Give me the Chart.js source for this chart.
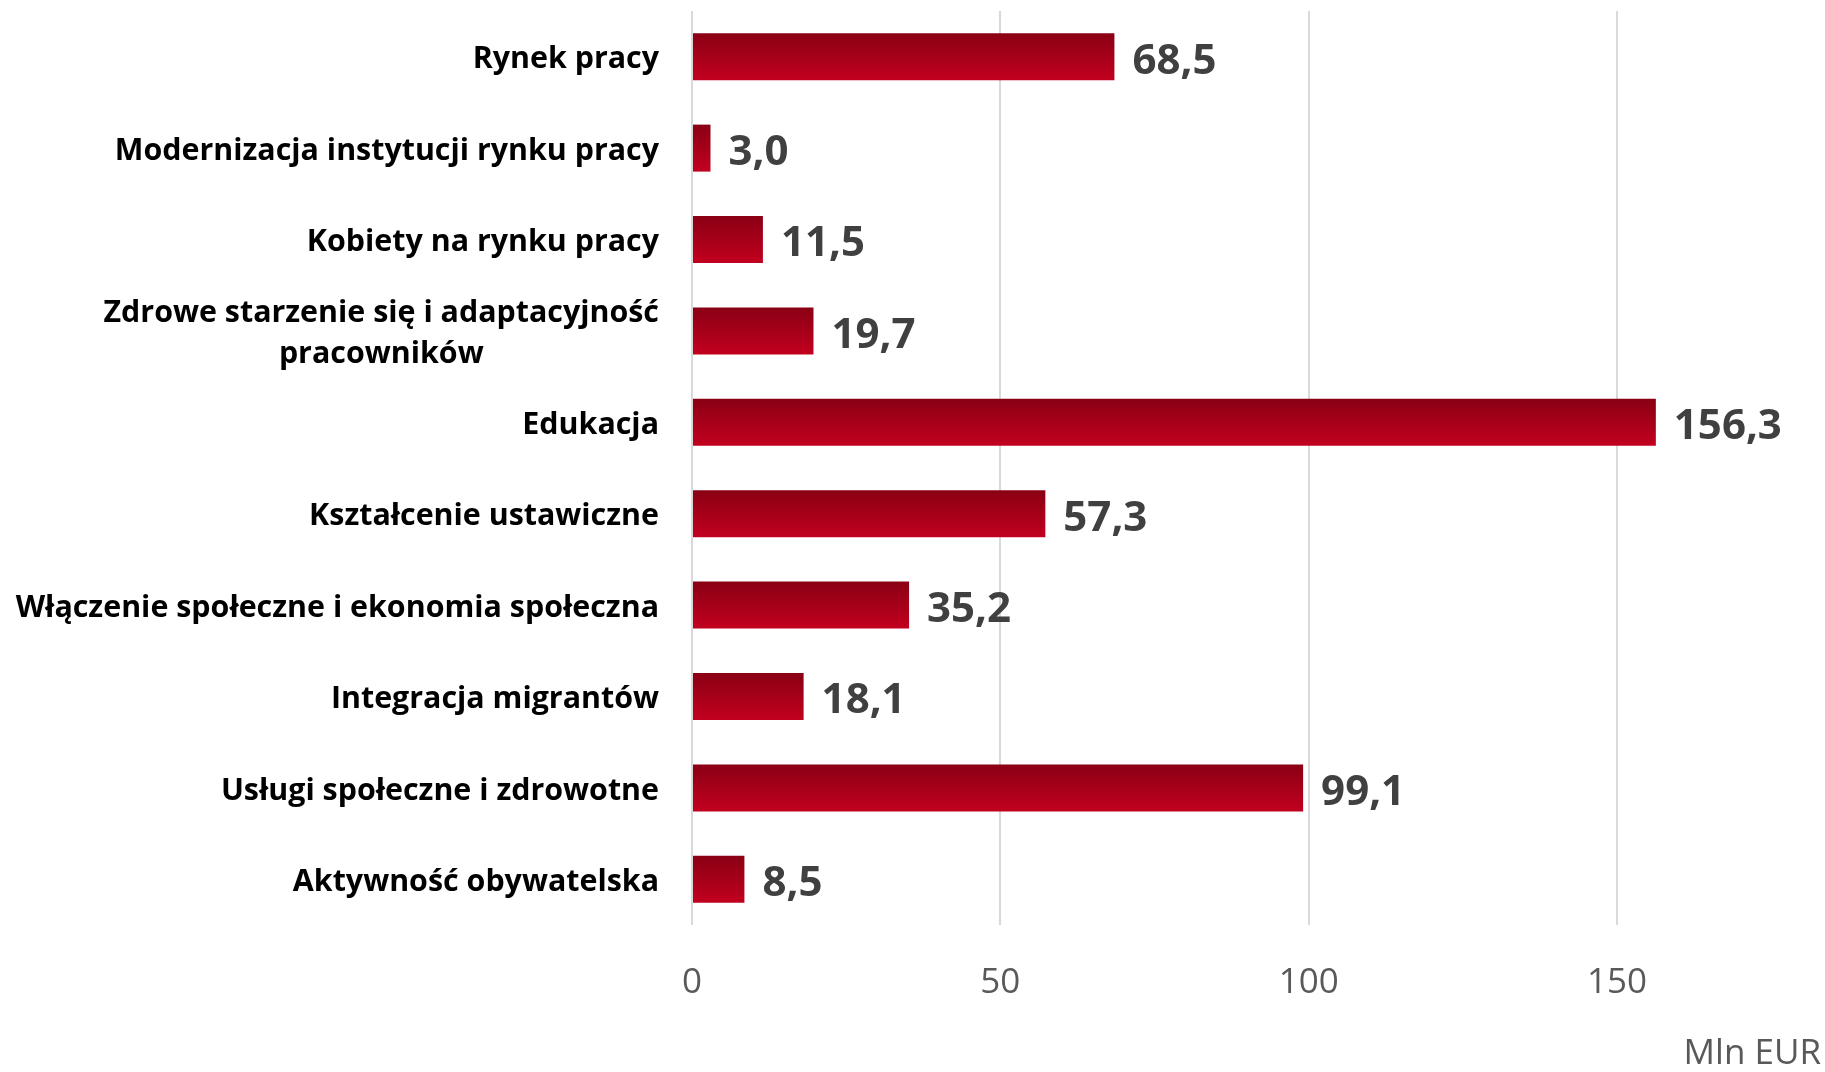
<!DOCTYPE html>
<html>
<head>
<meta charset="utf-8">
<script src="https://cdn.jsdelivr.net/npm/chart.js@4/dist/chart.umd.min.js"></script>
<style>
html,body{margin:0;padding:0;background:#fff;}
#wrap{position:relative;width:1825px;height:1072px;}
</style>
</head>
<body>
<div id="wrap"><canvas id="c" width="1825" height="1072"></canvas></div>
<script>
const categories = [
  "Rynek pracy",
  "Modernizacja instytucji rynku pracy",
  "Kobiety na rynku pracy",
  ["Zdrowe starzenie się i adaptacyjność", "pracowników"],
  "Edukacja",
  "Kształcenie ustawiczne",
  "Włączenie społeczne i ekonomia społeczna",
  "Integracja migrantów",
  "Usługi społeczne i zdrowotne",
  "Aktywność obywatelska"
];
const values = [68.5, 3.0, 11.5, 19.7, 156.3, 57.3, 35.2, 18.1, 99.1, 8.5];
const xTicks = [0, 50, 100, 150];
const axisUnit = "Mln EUR";

const BAR_PCT = 0.514;

function barGradient(ctx) {
  const chart = ctx.chart;
  const ys = chart.scales && chart.scales.y;
  if (!ys || !chart.chartArea || ctx.dataIndex === undefined) return '#a80018';
  const c = ys.getPixelForValue(ctx.dataIndex);
  const h = (ys.height / categories.length) * BAR_PCT / 2;
  const g = chart.ctx.createLinearGradient(0, c - h, 0, c + h);
  g.addColorStop(0, '#8a0014');
  g.addColorStop(1, '#c2001f');
  return g;
}

const labelPlugin = {
  id: 'valueLabels',
  afterDatasetsDraw(chart) {
    const ctx = chart.ctx;
    const meta = chart.getDatasetMeta(0);
    ctx.save();
    ctx.font = 'bold 42px "Open Sans"';
    ctx.fillStyle = '#404040';
    ctx.textAlign = 'left';
    ctx.textBaseline = 'middle';
    meta.data.forEach((bar, i) => {
      const txt = values[i].toFixed(1).replace('.', ',');
      ctx.fillText(txt, bar.x + 18, bar.y + 5);
    });
    ctx.restore();
  }
};

// category labels: right-aligned block, multi-line lines centred within the block
const catLabelPlugin = {
  id: 'catLabels',
  afterDraw(chart) {
    const ctx = chart.ctx;
    const ys = chart.scales.y;
    const right = ys.right - 33;
    const lh = 41;
    ctx.save();
    ctx.font = 'bold 30.4px "Open Sans"';
    ctx.fillStyle = '#000000';
    ctx.textBaseline = 'middle';
    categories.forEach((lab, i) => {
      const lines = Array.isArray(lab) ? lab : [lab];
      const cy = ys.getPixelForValue(i) + 3;
      const maxW = Math.max(...lines.map(l => ctx.measureText(l).width));
      const cx = right - maxW / 2;
      ctx.textAlign = 'center';
      lines.forEach((l, j) => {
        const y = cy + (j - (lines.length - 1) / 2) * lh;
        ctx.fillText(l, cx, y);
      });
    });
    ctx.restore();
  }
};

const unitPlugin = {
  id: 'unitLabel',
  afterDraw(chart) {
    const ctx = chart.ctx;
    ctx.save();
    ctx.font = '35px "Open Sans"';
    ctx.fillStyle = '#595959';
    ctx.textAlign = 'right';
    ctx.textBaseline = 'middle';
    ctx.fillText(axisUnit, 1821, 1054);
    ctx.restore();
  }
};

new Chart(document.getElementById('c'), {
  type: 'bar',
  data: {
    labels: categories,
    datasets: [{
      data: values,
      backgroundColor: barGradient,
      borderWidth: 0,
      barPercentage: BAR_PCT,
      categoryPercentage: 1.0
    }]
  },
  options: {
    indexAxis: 'y',
    responsive: false,
    animation: false,
    layout: { padding: { top: 11, right: 23, left: 0, bottom: 0 } },
    plugins: { legend: { display: false }, tooltip: { enabled: false } },
    scales: {
      x: {
        min: 0,
        max: 180,
        afterBuildTicks(axis) { axis.ticks = xTicks.map(v => ({ value: v })); },
        afterFit(axis) { axis.height = 1072 - 925; axis.paddingLeft = 0; axis.paddingRight = 0; },
        grid: { color: '#d9d9d9', lineWidth: 2, drawTicks: false },
        border: { display: false },
        ticks: {
          padding: 37,
          color: '#595959',
          font: { family: 'Open Sans', size: 35 }
        }
      },
      y: {
        afterFit(axis) { axis.width = 692; axis.paddingTop = 0; axis.paddingBottom = 0; },
        grid: { display: false },
        border: { display: false },
        ticks: { display: false }
      }
    }
  },
  plugins: [labelPlugin, catLabelPlugin, unitPlugin]
});
</script>
</body>
</html>
